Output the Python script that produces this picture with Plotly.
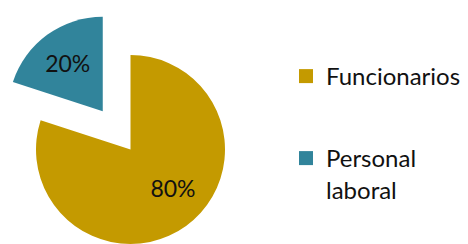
import math
import plotly.graph_objects as go

# ---- data ----
labels = ["Funcionarios", "Personal laboral"]
legend_names = ["Funcionarios", "Personal<br>laboral"]
values = [80, 20]
colors = ["#C49A00", "#31849B"]
pulled = [0.0, 0.5]          # fraction of radius the slice is pulled out
label_pad = ["\u00a0" * 5, ""]  # nudges the big slice's label outward

# ---- layout geometry (pixels) ----
W, H = 468, 244
cx, cy, r = 130.5, 149.5, 94.5
FONT = "Lato"
FS = 23
LFS = 24
TXT = "#111111"

total = sum(values)
transparent = "rgba(0,0,0,0)"


def dom(cxp, cyp):
    x0, x1 = (cxp - r) / W, (cxp + r) / W
    y_top, y_bot = cyp - r, cyp + r
    return dict(x=[max(0, x0), min(1, x1)],
                y=[max(0, 1 - y_bot / H), min(1, 1 - y_top / H)])


fig = go.Figure()
start = 0.0
for i, (lab, v) in enumerate(zip(labels, values)):
    frac = v / total
    mid = math.radians((start + frac / 2) * 360)   # clockwise from 12 o'clock
    dx = pulled[i] * r * math.sin(mid)
    dy = -pulled[i] * r * math.cos(mid)
    start += frac
    cols = [colors[j] if j == i else transparent for j in range(len(values))]
    tmpl = [label_pad[i] + "%{percent:.0%}" if j == i else "" for j in range(len(values))]
    fig.add_trace(go.Pie(
        labels=labels, values=values, sort=False, direction="clockwise",
        rotation=0, marker=dict(colors=cols, line=dict(width=0)),
        texttemplate=tmpl, textposition="inside",
        insidetextorientation="horizontal",
        textfont=dict(family=FONT, size=FS, color=TXT),
        domain=dom(cx + dx, cy + dy), showlegend=False, hoverinfo="skip",
    ))

legend_pos = [(286, 54), (286, 136)]
for i, name in enumerate(legend_names):
    lg = "legend" if i == 0 else f"legend{i+1}"
    fig.add_trace(go.Scatter(
        x=[None], y=[None], mode="markers", name=name,
        marker=dict(symbol="square", size=14, color=colors[i]),
        legend=lg, showlegend=True,
    ))

legend_common = dict(font=dict(family=FONT, size=LFS, color=TXT),
                     bgcolor="rgba(0,0,0,0)", borderwidth=0,
                     xanchor="left", yanchor="top", valign="top",
                     itemclick=False, itemdoubleclick=False)

fig.update_layout(
    width=W, height=H, margin=dict(l=0, r=0, t=0, b=0),
    paper_bgcolor="white", plot_bgcolor="white",
    xaxis=dict(visible=False), yaxis=dict(visible=False),
    legend=dict(x=legend_pos[0][0] / W, y=1 - legend_pos[0][1] / H, **legend_common),
    legend2=dict(x=legend_pos[1][0] / W, y=1 - legend_pos[1][1] / H, **legend_common),
)

fig.write_html("out.html", config={"displayModeBar": False},
               post_script="document.body.style.margin='0';document.body.style.overflow='hidden';")
